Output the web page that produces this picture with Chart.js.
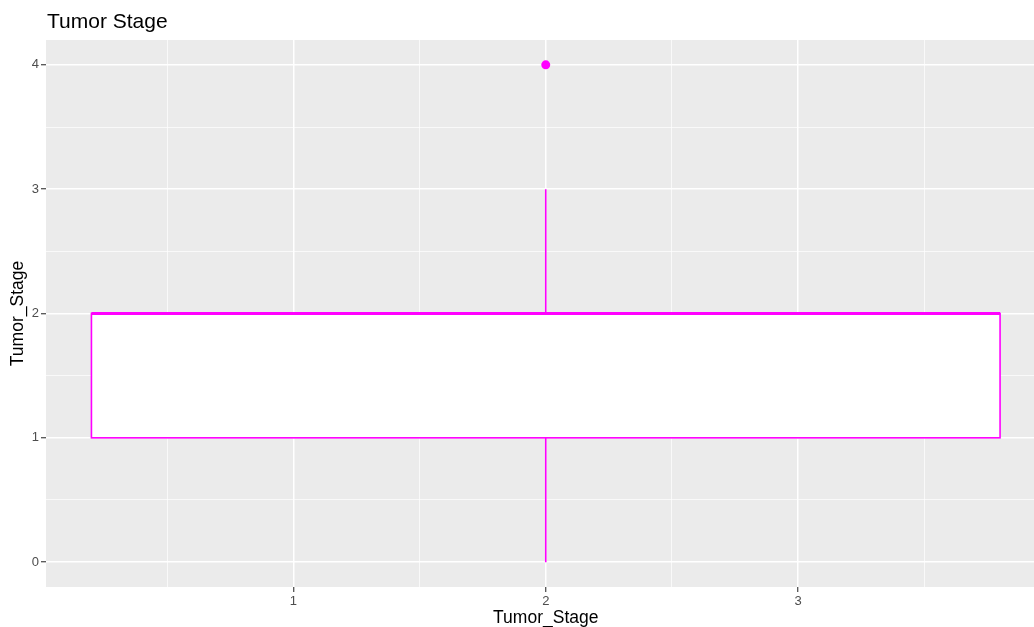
<!DOCTYPE html>
<html>
<head>
<meta charset="utf-8">
<title>Tumor Stage</title>
<script src="https://cdn.jsdelivr.net/npm/chart.js@4.4.1/dist/chart.umd.min.js"></script>
<style>
  html, body { margin: 0; padding: 0; background: #ffffff; overflow: hidden; }
  #wrap { width: 1050px; height: 627px; }
  canvas { display: block; }
</style>
</head>
<body>
<div id="wrap"><canvas id="chart" width="1050" height="627"></canvas></div>
<script>
// Box plot summary for Tumor_Stage
const boxCenter = [2];
const boxWidth = [3.6];
const lowerWhisker = [0];
const q1 = [1];
const median = [2];
const q3 = [2];
const upperWhisker = [3];
const outliers = [4];

// Axis ticks
const xTickValues = [1, 2, 3];
const xTickLabels = ['1', '2', '3'];
const yTickValues = [0, 1, 2, 3, 4];
const yTickLabels = ['0', '1', '2', '3', '4'];

const xRange = [0.02, 3.98];
const yRange = [-0.2, 4.2];

const MAGENTA = '#FF00FF';
const FONT = "'Liberation Sans', Arial, Helvetica, sans-serif";

function withMinor(values) {
  const out = [];
  for (let i = 0; i < values.length; i++) {
    out.push(values[i]);
    if (i < values.length - 1) out.push((values[i] + values[i + 1]) / 2);
  }
  return out;
}
const xGrid = [0.5].concat(withMinor(xTickValues)).concat([3.5]);
const yGrid = withMinor(yTickValues);

function isMajor(v, list) { return list.some(t => Math.abs(t - v) < 1e-9); }
function labelFor(v, vals, labels) {
  const i = vals.findIndex(t => Math.abs(t - v) < 1e-9);
  return i >= 0 ? labels[i] : '';
}

const panelBg = {
  id: 'panelBg',
  beforeDraw(chart) {
    const { ctx, chartArea: a } = chart;
    ctx.save();
    ctx.fillStyle = '#EBEBEB';
    ctx.fillRect(a.left, a.top, a.right - a.left, a.bottom - a.top);
    ctx.restore();
  }
};

const boxPlot = {
  id: 'boxPlot',
  beforeDatasetsDraw(chart) {
    const { ctx } = chart;
    const xs = chart.scales.x, ys = chart.scales.y;
    ctx.save();
    for (let i = 0; i < boxCenter.length; i++) {
      const xl = xs.getPixelForValue(boxCenter[i] - boxWidth[i] / 2);
      const xr = xs.getPixelForValue(boxCenter[i] + boxWidth[i] / 2);
      const xc = xs.getPixelForValue(boxCenter[i]);
      const yQ1 = ys.getPixelForValue(q1[i]);
      const yQ3 = ys.getPixelForValue(q3[i]);
      const yMed = ys.getPixelForValue(median[i]);
      const yLo = ys.getPixelForValue(lowerWhisker[i]);
      const yHi = ys.getPixelForValue(upperWhisker[i]);

      ctx.strokeStyle = MAGENTA;
      ctx.lineWidth = 1.6;
      // whiskers
      ctx.beginPath();
      ctx.moveTo(xc, yQ1); ctx.lineTo(xc, yLo);
      ctx.moveTo(xc, yQ3); ctx.lineTo(xc, yHi);
      ctx.stroke();
      // box
      ctx.fillStyle = '#FFFFFF';
      ctx.fillRect(xl, yQ3, xr - xl, yQ1 - yQ3);
      ctx.strokeRect(xl, yQ3, xr - xl, yQ1 - yQ3);
      // median
      ctx.lineWidth = 3.2;
      ctx.beginPath();
      ctx.moveTo(xl, yMed); ctx.lineTo(xr, yMed);
      ctx.stroke();
    }
    ctx.restore();
  }
};

const plotTitle = {
  id: 'plotTitle',
  afterDraw(chart) {
    const { ctx } = chart;
    ctx.save();
    ctx.fillStyle = '#000000';
    ctx.font = '21px ' + FONT;
    ctx.textBaseline = 'alphabetic';
    ctx.textAlign = 'left';
    ctx.fillText('Tumor Stage', 47, 28);
    ctx.restore();
  }
};

new Chart(document.getElementById('chart'), {
  type: 'scatter',
  data: {
    datasets: [{
      label: 'outliers',
      data: outliers.map((v, i) => ({ x: boxCenter[i], y: v })),
      backgroundColor: MAGENTA,
      borderColor: MAGENTA,
      pointRadius: 4.5,
      pointBorderWidth: 0
    }]
  },
  options: {
    responsive: false,
    animation: false,
    devicePixelRatio: 1,
    layout: { padding: { top: 40, left: 0, right: 0, bottom: 0 } },
    plugins: {
      legend: { display: false },
      tooltip: { enabled: false },
      title: { display: false }
    },
    scales: {
      x: {
        type: 'linear',
        min: xRange[0],
        max: xRange[1],
        afterBuildTicks(scale) { scale.ticks = xGrid.map(v => ({ value: v })); },
        afterFit(scale) { scale.height = 40; },
        border: { display: false },
        grid: {
          color: '#FFFFFF',
          lineWidth: c => isMajor(c.tick.value, xTickValues) ? 1.5 : 0.7,
          tickColor: c => isMajor(c.tick.value, xTickValues) ? '#333333' : 'rgba(0,0,0,0)',
          tickLength: 5,
          tickWidth: 1.1
        },
        ticks: {
          autoSkip: false,
          maxRotation: 0,
          padding: 2,
          color: '#4D4D4D',
          font: { family: FONT, size: 13 },
          callback: v => labelFor(v, xTickValues, xTickLabels)
        },
        title: {
          display: true,
          text: 'Tumor_Stage',
          color: '#000000',
          font: { family: FONT, size: 17.5, lineHeight: 1 },
          padding: { top: 0, bottom: 0 }
        }
      },
      y: {
        type: 'linear',
        min: yRange[0],
        max: yRange[1],
        afterBuildTicks(scale) { scale.ticks = yGrid.map(v => ({ value: v })); },
        afterFit(scale) { scale.width = 46; },
        border: { display: false },
        grid: {
          color: '#FFFFFF',
          lineWidth: c => isMajor(c.tick.value, yTickValues) ? 1.5 : 0.7,
          tickColor: c => isMajor(c.tick.value, yTickValues) ? '#333333' : 'rgba(0,0,0,0)',
          tickLength: 5,
          tickWidth: 1.1
        },
        ticks: {
          autoSkip: false,
          padding: 2,
          color: '#4D4D4D',
          font: { family: FONT, size: 13 },
          callback: v => labelFor(v, yTickValues, yTickLabels)
        },
        title: {
          display: true,
          text: 'Tumor_Stage',
          color: '#000000',
          font: { family: FONT, size: 17.5, lineHeight: 1 },
          padding: { top: 9.5, bottom: 0 }
        }
      }
    }
  },
  plugins: [panelBg, boxPlot, plotTitle]
});
</script>
</body>
</html>
